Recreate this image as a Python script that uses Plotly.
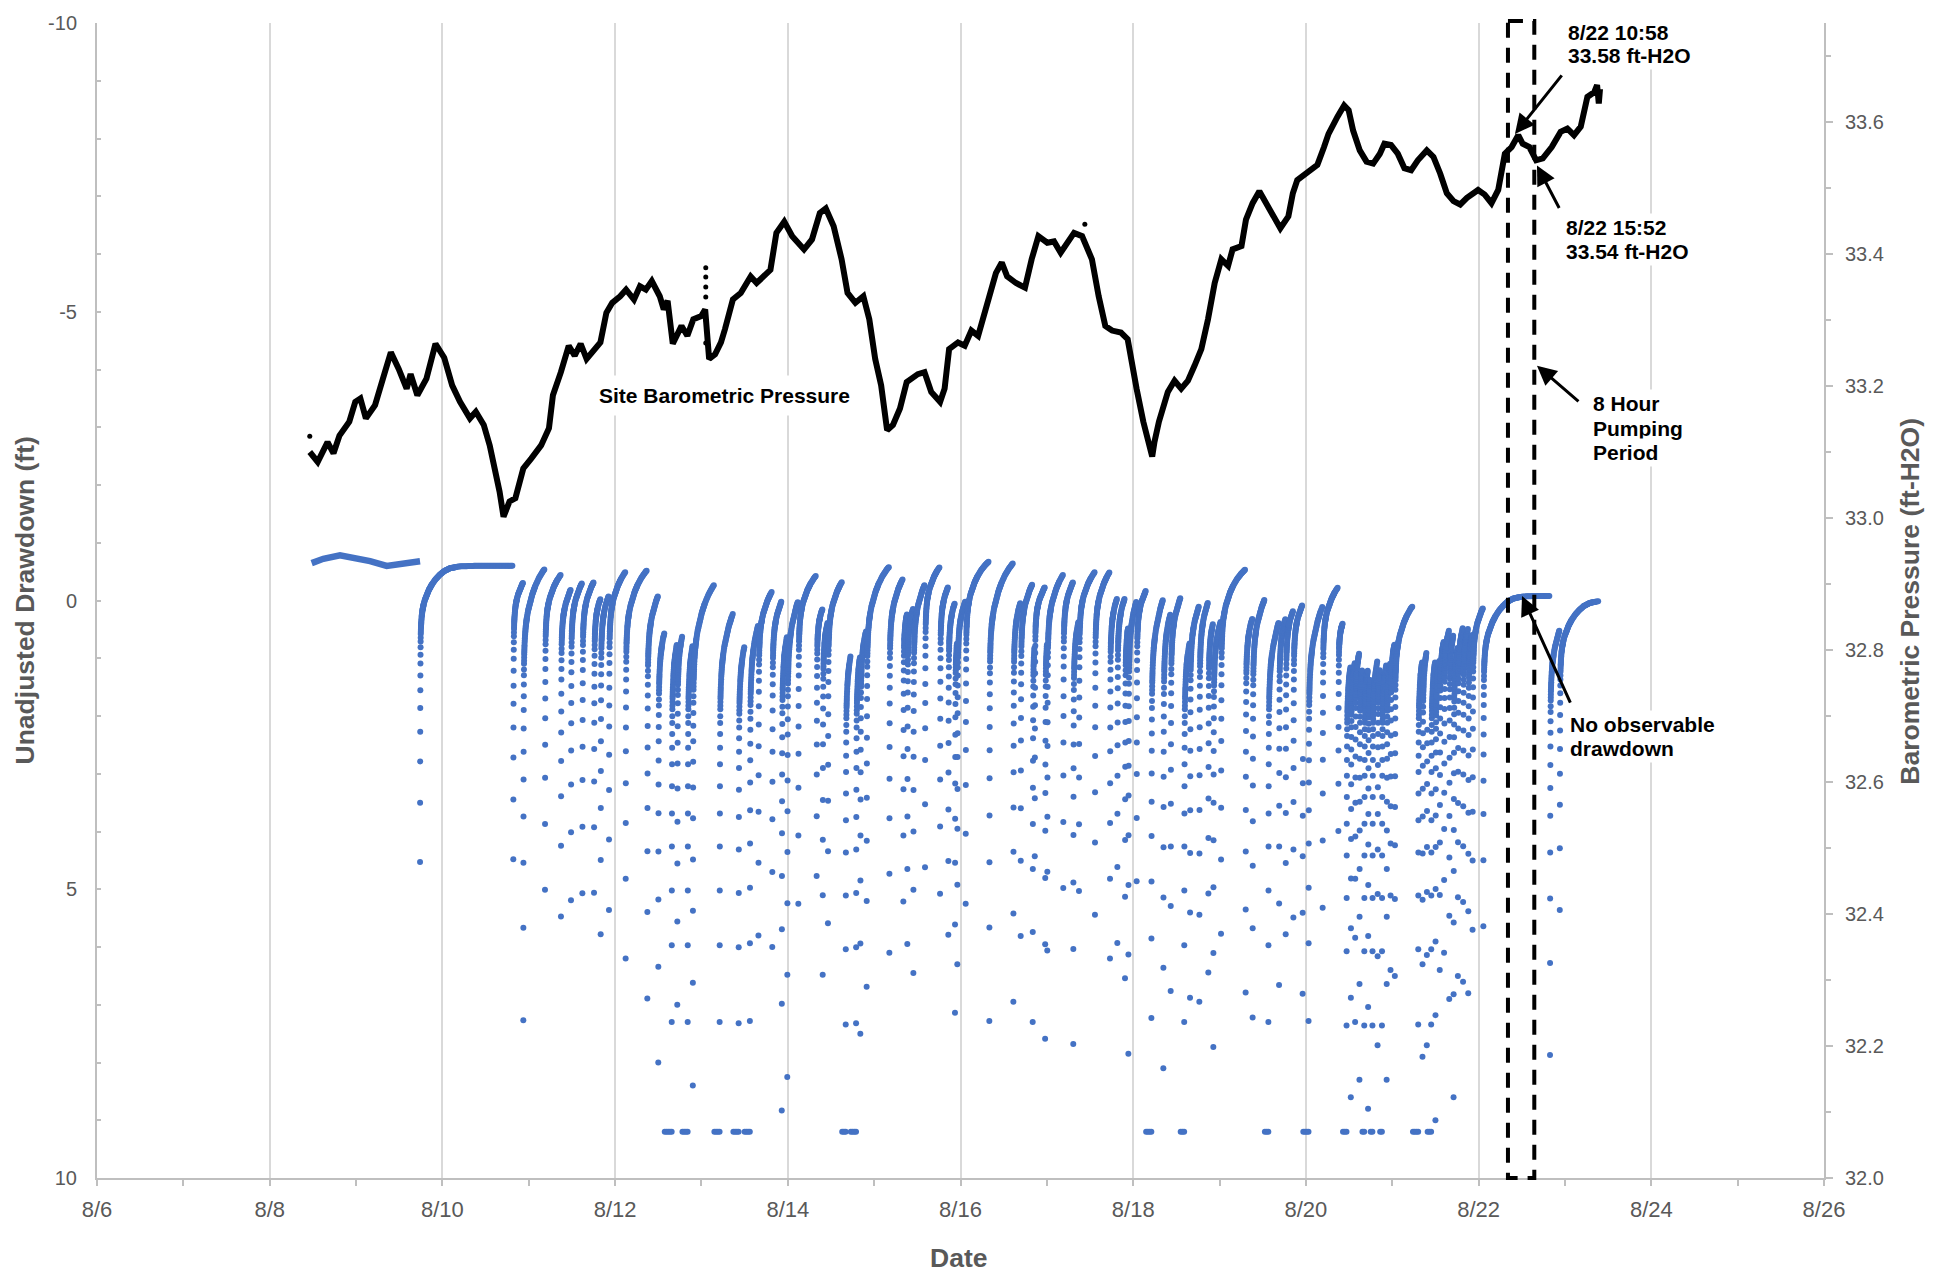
import numpy as np
import plotly.graph_objects as go

# ---------------- Site barometric pressure (day of August, ft-H2O) ----------------
baro_day = [8.464, 8.556, 8.670, 8.739, 8.808, 8.922, 8.991, 9.050, 9.114, 9.220, 9.334, 9.403, 9.494, 9.586,
            9.632, 9.710, 9.815, 9.920, 10.021, 10.113, 10.204, 10.319, 10.387, 10.479, 10.548, 10.616, 10.662,
            10.708, 10.777, 10.845, 10.937, 11.028, 11.143, 11.234, 11.280, 11.372, 11.463, 11.532, 11.601,
            11.670, 11.761, 11.830, 11.899, 11.967, 12.059, 12.127, 12.219, 12.288, 12.356, 12.425, 12.517,
            12.563, 12.608, 12.668, 12.769, 12.837, 12.906, 12.998, 13.043, 13.089, 13.158, 13.226, 13.272,
            13.364, 13.455, 13.570, 13.639, 13.730, 13.799, 13.868, 13.959, 14.051, 14.188, 14.280, 14.371,
            14.440, 14.531, 14.623, 14.692, 14.783, 14.875, 14.944, 15.012, 15.081, 15.150, 15.218, 15.299,
            15.377, 15.506, 15.583, 15.661, 15.764, 15.816, 15.868, 15.971, 16.049, 16.126, 16.204, 16.255,
            16.333, 16.410, 16.478, 16.540, 16.643, 16.747, 16.824, 16.902, 17.005, 17.083, 17.160, 17.238,
            17.315, 17.408, 17.522, 17.600, 17.677, 17.755, 17.858, 17.936, 17.987, 18.039, 18.117, 18.194,
            18.220, 18.246, 18.298, 18.401, 18.479, 18.556, 18.634, 18.711, 18.789, 18.866, 18.944, 19.021,
            19.099, 19.151, 19.254, 19.306, 19.383, 19.461, 19.538, 19.616, 19.704, 19.797, 19.849, 19.900,
            19.978, 20.055, 20.133, 20.210, 20.262, 20.366, 20.443, 20.495, 20.547, 20.624, 20.702, 20.779,
            20.857, 20.909, 20.986, 21.064, 21.141, 21.219, 21.296, 21.400, 21.477, 21.555, 21.632, 21.710,
            21.787, 21.865, 21.994, 22.071, 22.149, 22.227, 22.304, 22.382, 22.459, 22.511, 22.588, 22.666,
            22.743, 22.847, 22.950, 23.028, 23.105, 23.183, 23.260, 23.338, 23.372, 23.392, 23.406]
baro_ft = [33.100, 33.085, 33.115, 33.098, 33.125, 33.146, 33.176, 33.181, 33.151, 33.171, 33.221, 33.251,
           33.226, 33.196, 33.218, 33.186, 33.211, 33.264, 33.243, 33.201, 33.176, 33.151, 33.161, 33.141,
           33.110, 33.070, 33.040, 33.002, 33.025, 33.030, 33.075, 33.090, 33.110, 33.136, 33.186, 33.221,
           33.261, 33.246, 33.264, 33.241, 33.256, 33.266, 33.311, 33.326, 33.336, 33.346, 33.331, 33.351,
           33.346, 33.359, 33.336, 33.316, 33.329, 33.264, 33.291, 33.276, 33.301, 33.306, 33.316, 33.241,
           33.248, 33.266, 33.286, 33.331, 33.341, 33.366, 33.356, 33.366, 33.376, 33.432, 33.449, 33.427,
           33.407, 33.422, 33.462, 33.469, 33.442, 33.392, 33.341, 33.326, 33.336, 33.301, 33.241, 33.201,
           33.133, 33.141, 33.166, 33.206, 33.218, 33.221, 33.191, 33.176, 33.196, 33.256, 33.266, 33.261,
           33.284, 33.276, 33.301, 33.341, 33.371, 33.387, 33.366, 33.356, 33.349, 33.392, 33.427, 33.417,
           33.419, 33.402, 33.417, 33.432, 33.427, 33.392, 33.336, 33.291, 33.284, 33.281, 33.271, 33.231,
           33.196, 33.146, 33.110, 33.093, 33.115, 33.146, 33.191, 33.208, 33.196, 33.208, 33.231, 33.256,
           33.301, 33.356, 33.392, 33.382, 33.407, 33.412, 33.452, 33.477, 33.495, 33.477, 33.457, 33.439,
           33.457, 33.492, 33.512, 33.520, 33.527, 33.535, 33.562, 33.582, 33.608, 33.625, 33.618, 33.587,
           33.557, 33.540, 33.537, 33.552, 33.567, 33.565, 33.552, 33.530, 33.527, 33.542, 33.557, 33.547,
           33.522, 33.492, 33.480, 33.475, 33.485, 33.497, 33.490, 33.477, 33.497, 33.552, 33.562, 33.580,
           33.567, 33.562, 33.542, 33.545, 33.562, 33.585, 33.590, 33.580, 33.593, 33.638, 33.645, 33.656,
           33.628, 33.650]

# isolated barometer readings (spike on 8/13 and stray samples)
baro_dot_day = [8.464, 13.050, 13.050, 13.050, 13.050, 13.050, 13.050, 17.440]
baro_dot_ft = [33.124, 33.379, 33.365, 33.350, 33.335, 33.300, 33.265, 33.445]

# ---------------- Well transducer: unadjusted drawdown (ft) ----------------
# level record before the first pumping cycle
static_day = [8.486, 8.621, 8.814, 9.007, 9.162, 9.355, 9.548, 9.741]
static_dd = [-0.648, -0.722, -0.784, -0.736, -0.682, -0.600, -0.654, -0.680]

# pumping cycles: time the pump stopped, deepest reading, recovered level, readings at the sensor floor
cycle_day = [9.741, 10.821, 10.937, 11.188, 11.373, 11.489, 11.621, 11.756, 11.833, 11.929, 12.122, 12.373,
             12.500, 12.655, 12.720, 12.840, 12.900, 13.210, 13.430, 13.560, 13.660, 13.820, 13.930, 13.994,
             14.122, 14.334, 14.404, 14.465, 14.670, 14.790, 14.840, 14.913, 15.176, 15.338, 15.384, 15.454,
             15.589, 15.763, 15.859, 15.936, 15.963, 16.060, 16.334, 16.612, 16.697, 16.836, 16.860, 16.980,
             17.005, 17.190, 17.306, 17.372, 17.557, 17.731, 17.816, 17.905, 17.944, 18.040, 18.210, 18.349,
             18.434, 18.590, 18.658, 18.766, 18.870, 18.928, 19.017, 19.302, 19.383, 19.565, 19.689, 19.766,
             19.855, 19.962, 20.030, 20.194, 20.376, 20.470, 20.520, 20.570, 20.620, 20.675, 20.720, 20.770,
             20.830, 20.880, 20.935, 20.980, 21.030, 21.300, 21.350, 21.400, 21.450, 21.500, 21.550, 21.600,
             21.660, 21.710, 21.760, 21.820, 21.880, 21.930, 22.055, 22.827, 22.940]
cycle_depth = [4.53, 4.48, 7.27, 5.01, 5.47, 5.19, 5.07, 5.06, 5.78, 5.36, 6.20, 6.89,
               8.00, 9.20, 7.00, 9.20, 8.40, 9.20, 9.20, 9.20, 5.80, 6.00, 8.83, 8.25,
               5.25, 4.77, 6.48, 5.59, 9.20, 9.20, 7.50, 6.69, 6.10, 5.21, 5.95, 6.45,
               4.62, 5.08, 5.79, 7.14, 6.30, 5.25, 7.28, 6.95, 5.81, 7.30, 4.43, 7.59,
               6.06, 4.98, 7.68, 5.03, 5.44, 6.20, 5.93, 6.54, 7.85, 4.86, 9.20, 8.10,
               6.76, 9.20, 6.88, 6.95, 6.44, 7.73, 5.77, 6.79, 7.22, 9.20, 6.66, 5.78,
               5.49, 6.81, 9.20, 5.32, 3.99, 9.20, 8.60, 7.30, 8.30, 9.20, 8.80, 9.20,
               7.70, 9.20, 8.30, 6.40, 6.50, 9.20, 7.90, 7.70, 9.20, 9.00, 6.40, 6.10,
               6.90, 8.60, 6.50, 6.60, 6.80, 5.70, 5.64, 7.87, 5.36]
cycle_top = [-0.60, -0.70, -0.75, -0.70, -0.65, -0.70, -0.70, -0.60, -0.65, -0.75, -0.70, -0.60,
             -0.30, -0.30, -0.20, -0.30, -0.50, -0.30, -0.20, -0.40, -0.50, -0.50, -0.40, -0.60,
             -0.65, -0.40, -0.40, -0.65, -0.10, -0.20, -0.30, -0.75, -0.75, -0.50, -0.55, -0.75,
             -0.85, -0.75, -0.60, -0.50, -0.60, -0.80, -0.80, -0.70, -0.70, -0.50, -0.60, -0.60,
             -0.75, -0.75, -0.55, -0.75, -0.80, -0.70, -0.65, -0.50, -0.75, -0.60, -0.65, -0.60,
             -0.60, -0.30, -0.50, -0.60, -0.40, -0.40, -0.65, -0.40, -0.50, -0.30, -0.40, -0.40,
             -0.40, -0.20, -0.40, -0.50, -0.10, 0.00, 0.00, 0.00, 0.00, 0.00, 0.00, 0.00,
             0.00, 0.00, 0.00, -0.05, -0.15, -0.10, -0.10, -0.10, -0.10, -0.10, -0.10, -0.20,
             -0.30, -0.30, -0.30, -0.30, -0.30, -0.30, -0.08, -0.10, 0.00]
cycle_clip = [0, 0, 0, 0, 0, 0, 0, 0, 0, 0, 0, 0,
              0, 4, 0, 3, 0, 3, 3, 3, 0, 0, 0, 0,
              0, 0, 0, 0, 2, 3, 0, 0, 0, 0, 0, 0,
              0, 0, 0, 0, 0, 0, 0, 0, 0, 0, 0, 0,
              0, 0, 0, 0, 0, 0, 0, 0, 0, 0, 3, 0,
              0, 2, 0, 0, 0, 0, 0, 0, 0, 2, 0, 0,
              0, 0, 3, 0, 0, 2, 0, 0, 0, 1, 0, 1,
              0, 1, 0, 0, 0, 3, 0, 0, 2, 0, 0, 0,
              0, 0, 0, 0, 0, 0, 0, 0, 0]

record_end = 23.386
sensor_floor = 9.2

# typical recovery after the pump stops: minutes elapsed vs fraction of drawdown remaining
recovery_min = [0, 1, 2, 3, 4, 5, 6, 7, 8, 9, 10, 12, 15, 20, 28, 40, 60, 80, 110, 150, 200, 260,
                330, 400, 500, 650, 900, 2000]
recovery_frac = [1.0, 0.80, 0.66, 0.56, 0.48, 0.42, 0.37, 0.33, 0.30, 0.275, 0.255, 0.23, 0.21, 0.19,
                 0.17, 0.15, 0.13, 0.115, 0.10, 0.08, 0.062, 0.045, 0.03, 0.018, 0.008, 0.002, 0.0, 0.0]

# pumping test window on 8/22
pump_start = 22.340
pump_end = 22.645

# axis tick labels
left_ticks = [-10, -5, 0, 5, 10]
left_tick_text = ["-10", "-5", "0", "5", "10"]

# ---------------- build logger samples ----------------
sample_min = np.concatenate([np.arange(0, 21, 1), np.arange(22, 61, 2), np.arange(65, 201, 5),
                             np.arange(210, 601, 10), np.arange(620, 2000, 20)])
clip_step = 0.02  # days between readings below the sensor

dd_t, dd_v = [], []
n = len(cycle_day)
for i in range(n):
    t0, depth, top, nclip = cycle_day[i], cycle_depth[i], cycle_top[i], cycle_clip[i]
    for j in range(nclip, 0, -1):
        dd_t.append(t0 - j * clip_step)
        dd_v.append(sensor_floor)
    if i + 1 < n:
        t_next = cycle_day[i + 1] - cycle_clip[i + 1] * clip_step - 0.004
    else:
        t_next = record_end
    span_min = (t_next - t0) * 1440.0
    m = sample_min[sample_min <= max(span_min, 0)]
    frac = np.interp(m, recovery_min, recovery_frac)
    lvl = top + (min(depth, sensor_floor) - top) * frac
    dd_t.extend(list(t0 + m / 1440.0))
    dd_v.extend(list(lvl))

BLUE = "#4472C4"
GREY = "#595959"
AXIS_GREY = "#BFBFBF"
FONT = "Liberation Sans, Arial, sans-serif"

fig = go.Figure()

fig.add_trace(go.Scatter(x=static_day, y=static_dd, mode="lines",
                         line=dict(color=BLUE, width=6.5), hoverinfo="skip", yaxis="y"))
fig.add_trace(go.Scatter(x=dd_t, y=dd_v, mode="markers",
                         marker=dict(color=BLUE, size=6, line=dict(width=0)), yaxis="y",
                         name="Unadjusted Drawdown"))
fig.add_trace(go.Scatter(x=baro_day, y=baro_ft, mode="lines",
                         line=dict(color="black", width=6), yaxis="y2", name="Site Barometric Pressure"))
fig.add_trace(go.Scatter(x=baro_dot_day, y=baro_dot_ft, mode="markers",
                         marker=dict(color="black", size=5), yaxis="y2", hoverinfo="skip"))

axis_line = dict(showline=True, linecolor=AXIS_GREY, linewidth=2)
tick_font = dict(family=FONT, size=20, color=GREY)

fig.update_layout(
    width=1944, height=1275, autosize=False,
    margin=dict(l=97, r=120, t=15, b=97),
    paper_bgcolor="white", plot_bgcolor="white",
    showlegend=False,
    xaxis=dict(range=[6, 26], tickmode="linear", tick0=6, dtick=2, tickprefix="8/",
               showgrid=True, gridcolor="#D9D9D9", gridwidth=1.5, zeroline=False,
               ticks="outside", ticklen=6, tickwidth=1.5, tickcolor=AXIS_GREY,
               minor=dict(tickmode="linear", tick0=6, dtick=1, ticks="outside", ticklen=6, tickwidth=1.5,
                          tickcolor=AXIS_GREY, showgrid=False),
               tickfont=dict(family=FONT, size=22, color=GREY), ticklabelstandoff=5, **axis_line),
    yaxis=dict(range=[10, -10], tickmode="array", tickvals=left_ticks, ticktext=left_tick_text,
               showgrid=False, zeroline=False,
               ticks="inside", ticklen=4, tickwidth=1.5, tickcolor=AXIS_GREY,
               minor=dict(tickmode="linear", tick0=-10, dtick=1, ticks="inside", ticklen=4, tickwidth=1.5,
                          tickcolor=AXIS_GREY),
               tickfont=tick_font, ticklabelstandoff=14, **axis_line),
    yaxis2=dict(range=[32.0, 33.75], overlaying="y", side="right", tickmode="linear", tick0=32.0,
                dtick=0.2, tickformat=".1f", showgrid=False, zeroline=False,
                ticks="outside", ticklen=7, tickwidth=1.5, tickcolor=AXIS_GREY,
                minor=dict(tickmode="linear", tick0=32.0, dtick=0.1, ticks="outside", ticklen=5,
                           tickwidth=1.5, tickcolor=AXIS_GREY),
                tickfont=tick_font, ticklabelstandoff=8, **axis_line),
)

# dashed box marking the 8 hour pumping period
fig.add_shape(type="rect", xref="x", yref="paper", x0=pump_start, x1=pump_end, y0=1.0017, y1=0,
              line=dict(color="black", width=4, dash="15px,10px"), fillcolor="rgba(0,0,0,0)")

title_font = dict(family=FONT, size=26.5, color=GREY)
note_font = dict(family=FONT, size=21, color="black")


def paper_y(px):
    """Convert a pixel row of the 1275 px tall figure to paper units of the plot area."""
    return (1178.0 - px) / 1163.0


def note(text, x, row):
    return dict(text="<b>" + text + "</b>", xref="paper", yref="paper", x=x, y=paper_y(row),
                showarrow=False, font=note_font, bgcolor="white", borderpad=2,
                xanchor="left", yanchor="middle", align="left")


annotations = [
    dict(text="<b>Date</b>", xref="paper", yref="paper", x=0.4986, y=paper_y(1259), showarrow=False,
         font=title_font, xanchor="center", yanchor="middle"),
    dict(text="<b>Unadjusted Drawdown (ft)</b>", xref="paper", yref="paper", x=-0.0417, y=0.5,
         showarrow=False, font=title_font, textangle=-90, xanchor="center", yanchor="middle"),
    dict(text="<b>Barometric Pressure (ft-H2O)</b>", xref="paper", yref="paper", x=1.0498, y=0.499,
         showarrow=False, font=title_font, textangle=-90, xanchor="center", yanchor="middle"),
    dict(text="<b>Site Barometric Pressure</b>", xref="paper", yref="paper", x=0.3631, y=paper_y(390),
         showarrow=False, font=note_font, bgcolor="white", borderpad=8, xanchor="center", yanchor="middle"),
    note("8/22 10:58", 0.8500, 25),
    note("33.58 ft-H2O", 0.8500, 48),
    note("8/22 15:52", 0.8489, 221),
    note("33.54 ft-H2O", 0.8489, 245),
    note("8 Hour", 0.8645, 398),
    note("Pumping", 0.8645, 423),
    note("Period", 0.8645, 447),
    note("No observable", 0.8512, 721),
    note("drawdown", 0.8512, 746),
]

arrow_style = dict(text="", showarrow=True, arrowhead=2, arrowsize=1.3, arrowwidth=3,
                   arrowcolor="black", standoff=0, startstandoff=0)
annotations += [
    dict(x=22.421, y=33.582, xref="x", yref="y2", ax=48, ay=-60, **arrow_style),
    dict(x=22.676, y=33.534, xref="x", yref="y2", ax=23, ay=44, **arrow_style),
    dict(x=22.676, y=paper_y(360), xref="x", yref="paper", ax=43, ay=37, **arrow_style),
    dict(x=22.503, y=-0.077, xref="x", yref="y", ax=49, ay=108, **arrow_style),
]
fig.update_layout(annotations=annotations)

fig.write_html("out.html")
